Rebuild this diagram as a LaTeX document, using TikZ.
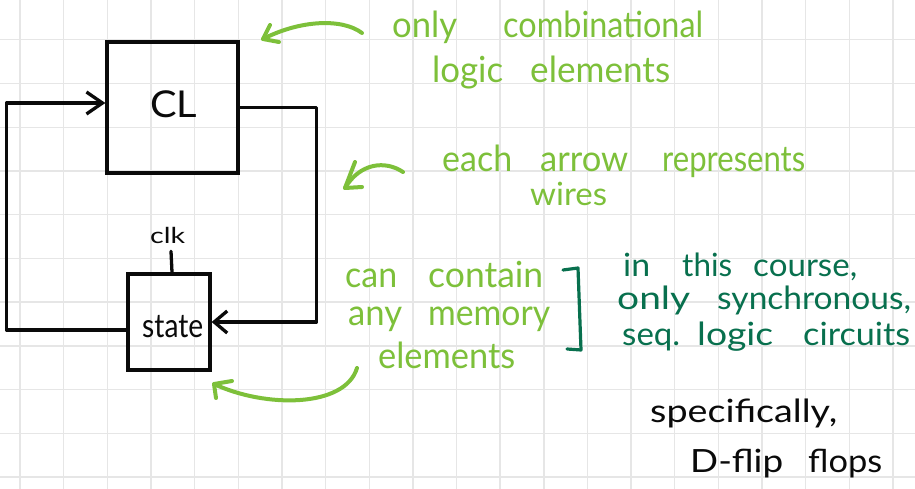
\documentclass[tikz,border=0pt]{standalone}
\usepackage{fontspec}
\usepackage{graphicx}
\usetikzlibrary{arrows.meta}
\newfontfamily\handfont{Lato}
\definecolor{lgreen}{RGB}{125,192,58}
\definecolor{dgreen}{RGB}{8,112,78}
\definecolor{ink}{RGB}{10,10,10}
\definecolor{gridc}{RGB}{230,230,230}
\newlength\fitlen
\newcommand\fitw[2]{\settowidth{\fitlen}{#2}\pgfmathsetmacro\fitr{#1/\fitlen}\scalebox{\fitr}[1]{#2}}
\begin{document}
\begin{tikzpicture}[x=1pt,y=-1pt,
  wire/.style={draw=ink,line width=3.3pt,line cap=round,line join=round},
  gpen/.style={draw=lgreen,line width=4pt,line cap=round,line join=round},
  dpen/.style={draw=dgreen,line width=3.2pt,line cap=round,line join=round},
  box/.style={draw=ink,line width=3.3pt,rectangle,inner sep=0},
  word/.style={anchor=base west,inner sep=0},
  gword/.style={word,text=lgreen,font=\handfont\fontsize{36}{40}\selectfont},
  dword/.style={word,text=dgreen,font=\handfont\fontsize{32}{36}\selectfont},
  kword/.style={word,text=ink,font=\handfont\fontsize{32}{36}\selectfont},
  barb/.style={-{Straight Barb[length=#1,width=22pt]}}]
\useasboundingbox (0,0) rectangle (915,489);
\fill[white] (0,0) rectangle (915,489);
% grid
\foreach \k in {0,...,20}{\draw[gridc,line width=1.4pt] ({20+43.65*\k},0) -- ({20+43.65*\k},489);}
\foreach \k in {0,...,10}{\draw[gridc,line width=1.4pt] (0,{39.8+43.72*\k}) -- (915,{39.8+43.72*\k});}
% boxes
\node[box,minimum width=131pt,minimum height=131pt] (CL) at (172.5,107.5) {};
\node[box,minimum width=82pt,minimum height=96pt] (st) at (169,322) {};
\node[kword,font=\handfont\fontsize{37}{40}\selectfont] (CLt) at (150,118) {\fitw{47}{CL}};
\node[kword,font=\handfont\fontsize{33}{36}\selectfont] (stt) at (142,337) {\fitw{61}{state}};
\node[kword,font=\handfont\fontsize{22}{24}\selectfont] (clk) at (150,243) {\fitw{35}{clk}};
% wires
\draw[wire,barb=13pt] (CL.east) -- ++(77,0) |- (st.east);
\draw[wire,barb=16pt] ([yshift=-8pt]st.west) -- ++(-120,0) |- ([yshift=4.5pt]CL.west);
\draw[wire] ([xshift=3pt]st.north) -- ++(-1,-21);
% green arrows
\coordinate (a1s) at (362,33); \coordinate (a1t) at (263,39);
\draw[gpen] (a1s) .. controls (342,18) and (300,20) .. (a1t);
\draw[gpen] (270,25) -- (a1t) -- (279,42);
\coordinate (a2s) at (403,172); \coordinate (a2t) at (345,188);
\draw[gpen] (a2s) .. controls (385,160) and (360,163) .. (a2t);
\draw[gpen] (355,162) -- (a2t) -- (362,187);
\coordinate (a3s) at (357,368); \coordinate (a3t) at (214,384);
\draw[gpen] (a3s) .. controls (345,408) and (265,408) .. (a3t);
\draw[gpen] (232,381) -- (a3t) -- (216,398);
% bracket
\draw[dpen] (563,270) -- (578,268) -- (581,350) -- (567,349);
% light green text
\node[gword] (w1) at (392,38) {\fitw{65}{only}};
\node[gword] (w2) at (503,38) {\fitw{200}{combinational}};
\node[gword] (w3) at (432,83) {\fitw{71}{logic}};
\node[gword] (w4) at (530,83) {\fitw{140}{elements}};
\node[gword] (w5) at (442,172) {\fitw{70}{each}};
\node[gword] (w6) at (540,172) {\fitw{88}{arrow}};
\node[gword] (w7) at (662,172) {\fitw{143}{represents}};
\node[gword,font=\handfont\fontsize{32}{36}\selectfont] (w8) at (530,205) {\fitw{77}{wires}};
\node[gword] (w9) at (345,287) {\fitw{52}{can}};
\node[gword] (w10) at (428,287) {\fitw{115}{contain}};
\node[gword] (w11) at (348,325) {\fitw{54}{any}};
\node[gword] (w12) at (428,325) {\fitw{122}{memory}};
\node[gword] (w13) at (378,368) {\fitw{137}{elements}};
% dark green text
\node[dword] (d1) at (623,276) {\fitw{27}{in}};
\node[dword] (d2) at (682,276) {\fitw{50}{this}};
\node[dword] (d3) at (753,276) {\fitw{104}{course,}};
\node[dword] (d4) at (617,309) {\fitw{73}{only}};
\node[dword] (d5) at (717,309) {\fitw{194}{synchronous,}};
\node[dword] (d6) at (622,345) {\fitw{58}{seq.}};
\node[dword] (d7) at (697,345) {\fitw{76}{logic}};
\node[dword] (d8) at (803,345) {\fitw{107}{circuits}};
% black text
\node[kword] (k1) at (650,422) {\fitw{187}{specifically,}};
\node[kword] (k2) at (690,472) {\fitw{93}{D-flip}};
\node[kword] (k3) at (808,472) {\fitw{74}{flops}};
\end{tikzpicture}
\end{document}
